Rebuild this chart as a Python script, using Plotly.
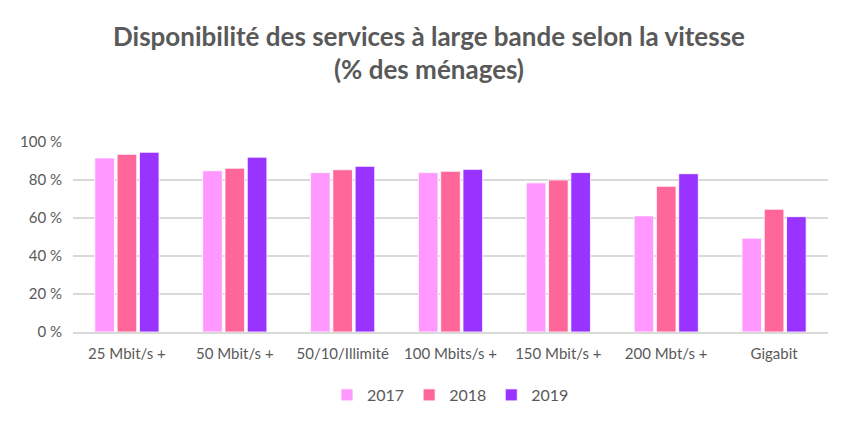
import plotly.graph_objects as go

categories = ["25 Mbit/s +", "50 Mbit/s +", "50/10/Illimité", "100 Mbits/s +", "150 Mbit/s +", "200 Mbt/s +", "Gigabit"]
v2017 = [91.6, 84.9, 83.9, 83.9, 78.5, 61.1, 49.4]
v2018 = [93.5, 86.2, 85.4, 84.6, 80.0, 76.7, 64.6]
v2019 = [94.6, 92.0, 87.2, 85.6, 83.9, 83.3, 60.7]
series = [("2017", v2017, "#FF99FF"), ("2018", v2018, "#FF6699"), ("2019", v2019, "#9933FF")]
tick_vals = [0, 20, 40, 60, 80, 100]
tick_text = ["0 %", "20 %", "40 %", "60 %", "80 %", "100 %"]

fig = go.Figure()
for name, vals, col in series:
    fig.add_trace(go.Bar(x=categories, y=vals, name=name,
                         marker=dict(color=col, line=dict(color="rgba(255,255,255,0.8)", width=1))))

fig.update_layout(
    width=842, height=417,
    paper_bgcolor="white", plot_bgcolor="white",
    font=dict(family="Lato, Open Sans, sans-serif", color="#595959", size=15),
    title=dict(text="<b>Disponibilité des services à large bande selon la vitesse<br>(% des ménages)</b>",
               x=0.5, xanchor="center", y=0.91, yanchor="middle",
               font=dict(size=26, color="#595959")),
    margin=dict(l=65, r=22, t=134, b=93, autoexpand=False),
    barmode="group", bargap=0.38, bargroupgap=0.12,
    legend=dict(orientation="h", x=0.5, xanchor="center", yref="container", y=0.072, yanchor="middle",
                font=dict(size=16, color="#595959"), traceorder="normal", itemwidth=30),
    showlegend=True,
)
fig.update_yaxes(range=[0, 100], tickvals=tick_vals, ticktext=tick_text,
                 showgrid=True, gridcolor="#D9D9D9", gridwidth=1.5, zeroline=False,
                 showline=False, ticks="", ticklen=0, ticklabelstandoff=10)
fig.update_xaxes(showline=True, linecolor="#D9D9D9", linewidth=1.5, ticks="",
                 tickfont=dict(size=15), ticklabelstandoff=7)

fig.write_html("out.html")
